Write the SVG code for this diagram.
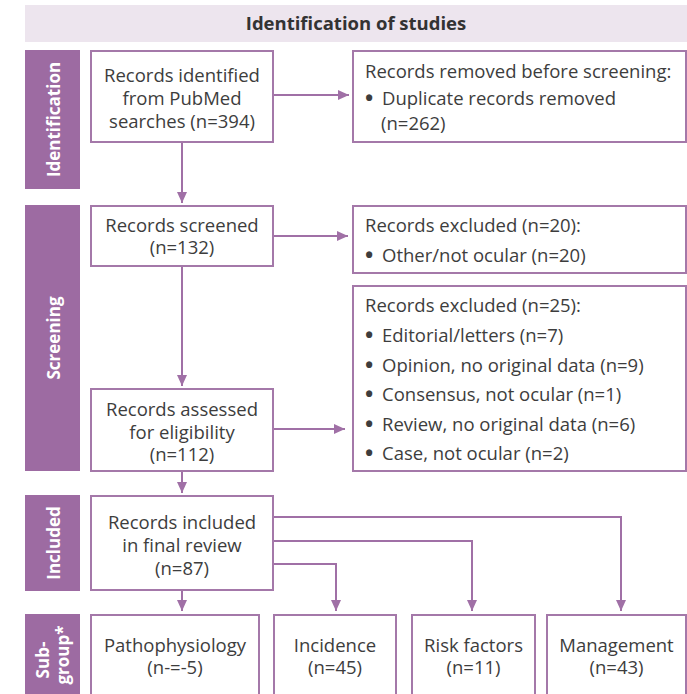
<svg xmlns="http://www.w3.org/2000/svg" width="687" height="694" viewBox="0 0 687 694">
<style>
.box{fill:#ffffff;stroke:#a478a9;stroke-width:2}
.band{fill:#9d6ba2}
.t{font-family:'Open Sans','Noto Sans','Liberation Sans',sans-serif;font-size:18.5px;fill:#3d3d3d}
.b{font-family:'Open Sans','Noto Sans','Liberation Sans',sans-serif;font-size:22px;font-weight:700;fill:#3d3d3d}
.c{text-anchor:middle}
.side{font-family:'Open Sans','Noto Sans','Liberation Sans',sans-serif;font-weight:700;font-size:17px;fill:#ffffff;text-anchor:middle}
.hdr{font-family:'Open Sans','Noto Sans','Liberation Sans',sans-serif;font-weight:700;font-size:18.5px;fill:#333333;text-anchor:middle}
.conn{stroke:#a070a6;stroke-width:2;fill:none}
</style>
<defs>
<marker id="ah" markerWidth="11" markerHeight="10" refX="11" refY="5" orient="auto" markerUnits="userSpaceOnUse">
<path d="M0,0 L11,5 L0,10 z" fill="#a070a6"/>
</marker>
</defs>
<rect width="687" height="694" fill="#ffffff"/>

<g id="header">
<rect x="25" y="5" width="662" height="37" fill="#ede5ee"/>
<text class="hdr" x="356" y="30">Identification of studies</text>
</g>

<g id="stage-identification">
<rect class="band" x="25" y="50" width="55" height="139"/>
<text class="side" transform="translate(59.5,119.5) rotate(-90)">Identification</text>
</g>
<g id="stage-screening">
<rect class="band" x="25" y="205" width="55" height="266"/>
<text class="side" transform="translate(59.5,338) rotate(-90)">Screening</text>
</g>
<g id="stage-included">
<rect class="band" x="25" y="495" width="55" height="96"/>
<text class="side" transform="translate(59.5,543) rotate(-90)">Included</text>
</g>
<g id="stage-subgroup">
<rect class="band" x="25" y="614" width="55" height="90"/>
<text class="side" transform="translate(49,660) rotate(-90)">Sub-</text>
<text class="side" transform="translate(69,655) rotate(-90)">group*</text>
</g>

<g id="connectors">
<path class="conn" d="M273,95 H349" marker-end="url(#ah)"/>
<path class="conn" d="M182,142 V203" marker-end="url(#ah)"/>
<path class="conn" d="M273,236 H348" marker-end="url(#ah)"/>
<path class="conn" d="M182,266 V386" marker-end="url(#ah)"/>
<path class="conn" d="M273,429 H345" marker-end="url(#ah)"/>
<path class="conn" d="M182,471 V493" marker-end="url(#ah)"/>
<path class="conn" d="M182,590 V611" marker-end="url(#ah)"/>
<path class="conn" d="M273,564 H336 V611" marker-end="url(#ah)"/>
<path class="conn" d="M273,541 H472 V611" marker-end="url(#ah)"/>
<path class="conn" d="M273,517 H621 V611" marker-end="url(#ah)"/>
</g>

<g id="records-identified">
<rect class="box" x="91" y="51" width="182" height="91"/>
<text class="t c" x="182" y="82">Records identified</text>
<text class="t c" x="182" y="105">from PubMed</text>
<text class="t c" x="182" y="128">searches (n=394)</text>
</g>

<g id="records-removed">
<rect class="box" x="353" y="51" width="333" height="91"/>
<text class="t" x="365" y="78">Records removed before screening:</text>
<text class="b" x="365" y="106">•</text>
<text class="t" x="382" y="105">Duplicate records removed</text>
<text class="t" x="381" y="130">(n=262)</text>
</g>

<g id="records-screened">
<rect class="box" x="91" y="206" width="182" height="60"/>
<text class="t c" x="182" y="232">Records screened</text>
<text class="t c" x="182" y="254">(n=132)</text>
</g>

<g id="records-excluded-20">
<rect class="box" x="353" y="206" width="333" height="67"/>
<text class="t" x="365" y="232">Records excluded (n=20):</text>
<text class="b" x="365" y="263">•</text>
<text class="t" x="382" y="262">Other/not ocular (n=20)</text>
</g>

<g id="records-excluded-25">
<rect class="box" x="353" y="286" width="333" height="185"/>
<text class="t" x="365" y="312">Records excluded (n=25):</text>
<text class="b" x="365" y="343">•</text>
<text class="t" x="382" y="342">Editorial/letters (n=7)</text>
<text class="b" x="365" y="372.5">•</text>
<text class="t" x="382" y="371.5">Opinion, no original data (n=9)</text>
<text class="b" x="365" y="402">•</text>
<text class="t" x="382" y="401">Consensus, not ocular (n=1)</text>
<text class="b" x="365" y="431.5">•</text>
<text class="t" x="382" y="430.5">Review, no original data (n=6)</text>
<text class="b" x="365" y="461">•</text>
<text class="t" x="382" y="460">Case, not ocular (n=2)</text>
</g>

<g id="records-assessed">
<rect class="box" x="91" y="389" width="182" height="82"/>
<text class="t c" x="182" y="416">Records assessed</text>
<text class="t c" x="182" y="438.5">for eligibility</text>
<text class="t c" x="182" y="461">(n=112)</text>
</g>

<g id="records-included">
<rect class="box" x="91" y="496" width="182" height="94"/>
<text class="t c" x="182" y="529">Records included</text>
<text class="t c" x="182" y="552">in final review</text>
<text class="t c" x="182" y="575">(n=87)</text>
</g>

<g id="pathophysiology">
<rect class="box" x="91" y="615" width="168" height="95"/>
<text class="t c" x="175" y="652">Pathophysiology</text>
<text class="t c" x="175" y="674">(n-=-5)</text>
</g>
<g id="incidence">
<rect class="box" x="274" y="615" width="122" height="95"/>
<text class="t c" x="335" y="652">Incidence</text>
<text class="t c" x="335" y="674">(n=45)</text>
</g>
<g id="risk-factors">
<rect class="box" x="412" y="615" width="123" height="95"/>
<text class="t c" x="473.5" y="652">Risk factors</text>
<text class="t c" x="473.5" y="674">(n=11)</text>
</g>
<g id="management">
<rect class="box" x="547" y="615" width="139" height="95"/>
<text class="t c" x="616.5" y="652">Management</text>
<text class="t c" x="616.5" y="674">(n=43)</text>
</g>
</svg>
